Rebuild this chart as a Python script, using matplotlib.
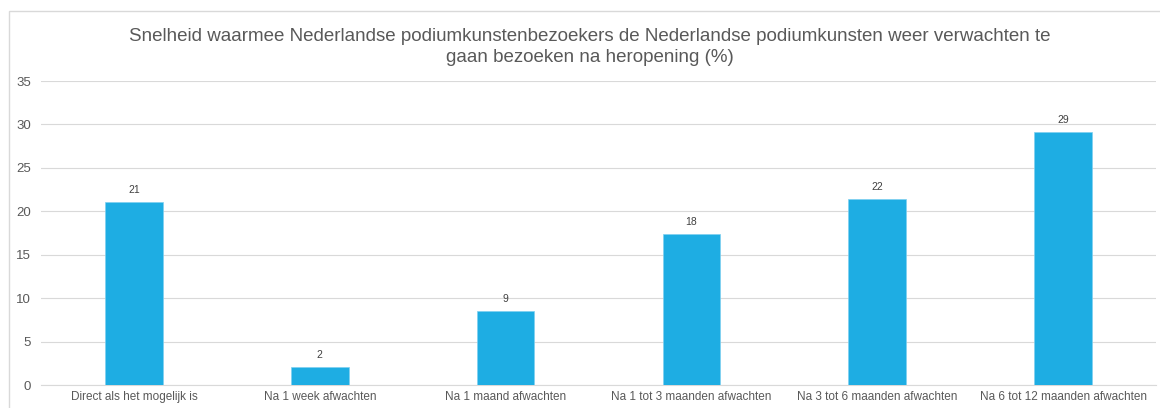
import matplotlib
matplotlib.use("Agg")
import matplotlib.pyplot as plt
from matplotlib.patches import Rectangle

categories = [
    "Direct als het mogelijk is",
    "Na 1 week afwachten",
    "Na 1 maand afwachten",
    "Na 1 tot 3 maanden afwachten",
    "Na 3 tot 6 maanden afwachten",
    "Na 6 tot 12 maanden afwachten",
]
values = [21.1, 2.1, 8.5, 17.4, 21.4, 29.1]
value_labels = ["21", "2", "9", "18", "22", "29"]
yticks = [0, 5, 10, 15, 20, 25, 30, 35]
title = ("Snelheid waarmee Nederlandse podiumkunstenbezoekers de Nederlandse podiumkunsten weer verwachten te\n"
         "gaan bezoeken na heropening (%)")

plt.rcParams['font.family'] = ['Liberation Sans', 'DejaVu Sans']
txt = '#595959'
grid = '#D9D9D9'
bar_color = '#1EADE3'

fig = plt.figure(figsize=(11.6, 4.08), dpi=100)
fig.patches.append(Rectangle((9/1160, -0.1), 1.2, 1 - 11/408 + 0.1, transform=fig.transFigure,
                             fill=False, edgecolor=grid, linewidth=1.0))

ax = fig.add_axes([41/1160, 1 - 385/408, (1156 - 41)/1160, (385 - 81)/408])
x = list(range(len(categories)))
bars = ax.bar(x, values, width=0.31, color=bar_color, edgecolor='#7FD0F0', linewidth=0.5, zorder=3)
for xi, v, lab in zip(x, values, value_labels):
    ax.annotate(lab, (xi, v), xytext=(0, 5), textcoords='offset points',
                ha='center', va='bottom', fontsize=7.5, color='#404040')

ax.set_xlim(-0.5, len(categories) - 0.5)
ax.set_ylim(0, 35)
ax.set_yticks(yticks)
ax.set_yticklabels([str(t) for t in yticks], fontsize=9.5, color=txt)
ax.set_xticks(x)
ax.set_xticklabels(categories, fontsize=8.5, color=txt)
ax.tick_params(axis='both', length=0)
ax.tick_params(axis='y', pad=7)
ax.tick_params(axis='x', pad=4)
ax.yaxis.grid(True, color=grid, linewidth=0.8, zorder=0)
ax.set_axisbelow(True)
for s in ['top', 'right', 'left']:
    ax.spines[s].set_visible(False)
ax.spines['bottom'].set_color(grid)
ax.spines['bottom'].set_linewidth(0.8)

fig.text(590/1160, 1 - 47/408, title, ha='center', va='center', fontsize=13.5,
         color=txt, linespacing=1.3)

fig.savefig('out.png', dpi=100)
